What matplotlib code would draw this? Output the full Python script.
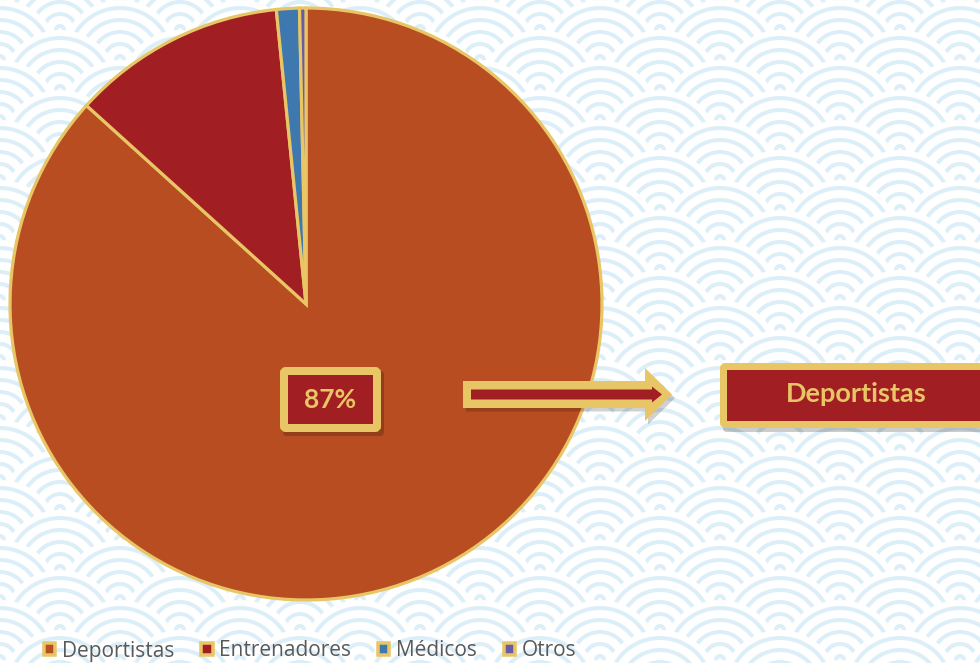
import matplotlib
matplotlib.use('Agg')
import matplotlib.pyplot as plt
from matplotlib.patches import Circle, Rectangle, FancyArrow, FancyBboxPatch, Patch
import numpy as np

# ---- data ----
categories = ['Deportistas', 'Entrenadores', 'Médicos', 'Otros']
values = [86.7, 11.7, 1.25, 0.35]
colors = ['#B84D22', '#A11F22', '#3E78AE', '#6B5AA6']
highlight_label = '87%'
highlight_category = 'Deportistas'

W, H = 980, 663
GOLD = '#E8C666'
RED = '#A11F22'
PT = 72 / 100  # points per pixel

fig = plt.figure(figsize=(9.8, 6.63), dpi=100)

# ---- decorative background pattern ----
bg = fig.add_axes([0, 0, 1, 1], zorder=0)
bg.set_xlim(0, W); bg.set_ylim(0, H); bg.axis('off')
bg.add_patch(Rectangle((0, 0), W, H, facecolor='white', edgecolor='none'))
R = 60
period = 2 * R
row_h = R / 2
ring_radii = [52, 40, 28, 16, 4]
rows = np.arange(H + R, -R - 1, -row_h)
for i, yc in enumerate(rows):
    off = R if i % 2 else 0
    for xc in np.arange(-period + off, W + period, period):
        bg.add_patch(Circle((xc, yc), R, facecolor='white', edgecolor='none'))
        for r in ring_radii:
            bg.add_patch(Circle((xc, yc), r, facecolor='none',
                                edgecolor='#DCEFF8', lw=4 * PT))

# ---- main axes ----
ax = fig.add_axes([0, 0, 1, 1], zorder=1)
ax.set_facecolor('none')
cx, cy, rad = 306, H - 304, 296
ax.pie(values, colors=colors, startangle=90, counterclock=False,
       center=(cx, cy), radius=rad,
       wedgeprops=dict(edgecolor=GOLD, linewidth=3.2 * PT))
ax.set_xlim(0, W); ax.set_ylim(0, H); ax.set_aspect('auto'); ax.axis('off')

def box(x0, y0, x1, y1, bw, z):
    # y in top-based pixel coords
    ax.add_patch(FancyBboxPatch((x0 + 3, H - y1 - 4), x1 - x0, y1 - y0,
                                boxstyle='round,pad=0,rounding_size=4',
                                facecolor='black', edgecolor='none', alpha=0.2, zorder=z))
    ax.add_patch(FancyBboxPatch((x0 + bw / 2, H - y1 + bw / 2), x1 - x0 - bw, y1 - y0 - bw,
                                boxstyle='round,pad=0,rounding_size=2',
                                facecolor=RED, edgecolor=GOLD, linewidth=bw * PT, zorder=z + 1))

# 87% label box
box(280, 367, 381, 432, 8, 5)
ax.text(330.5, H - 400, highlight_label, ha='center', va='center', color=GOLD,
        fontsize=19, fontweight='bold', family='Lato', zorder=8)

# arrow
ax.add_patch(FancyArrow(466, H - 398, 209, 0, width=27, head_width=53, head_length=27,
                        length_includes_head=True, facecolor='black', edgecolor='none',
                        alpha=0.18, zorder=5))
ax.add_patch(FancyArrow(463, H - 394.5, 209, 0, width=27, head_width=53, head_length=27,
                        length_includes_head=True, facecolor=GOLD, edgecolor='none', zorder=6))
ax.add_patch(FancyArrow(471, H - 394.5, 191, 0, width=10, head_width=16, head_length=10,
                        length_includes_head=True, facecolor=RED, edgecolor='none', zorder=7))

# category label box
box(720, 363, 1010, 428, 7, 5)
ax.text(856, H - 394, highlight_category, ha='center', va='center', color=GOLD,
        fontsize=19.5, fontweight='bold', family='Lato', zorder=8)

# legend
handles = [Patch(facecolor=c, edgecolor=GOLD, linewidth=3.5 * PT) for c in colors]
leg = ax.legend(handles, categories, loc='center left', bbox_to_anchor=(44 / W, 12 / H),
                bbox_transform=fig.transFigure, ncol=4, frameon=False,
                handlelength=0.55, handleheight=0.55, handletextpad=0.3,
                columnspacing=1.3, borderpad=0, borderaxespad=0,
                labelcolor='#595959', prop={'family': 'Open Sans', 'size': 15})
leg.set_zorder(10)

fig.savefig('out.png', dpi=100)
